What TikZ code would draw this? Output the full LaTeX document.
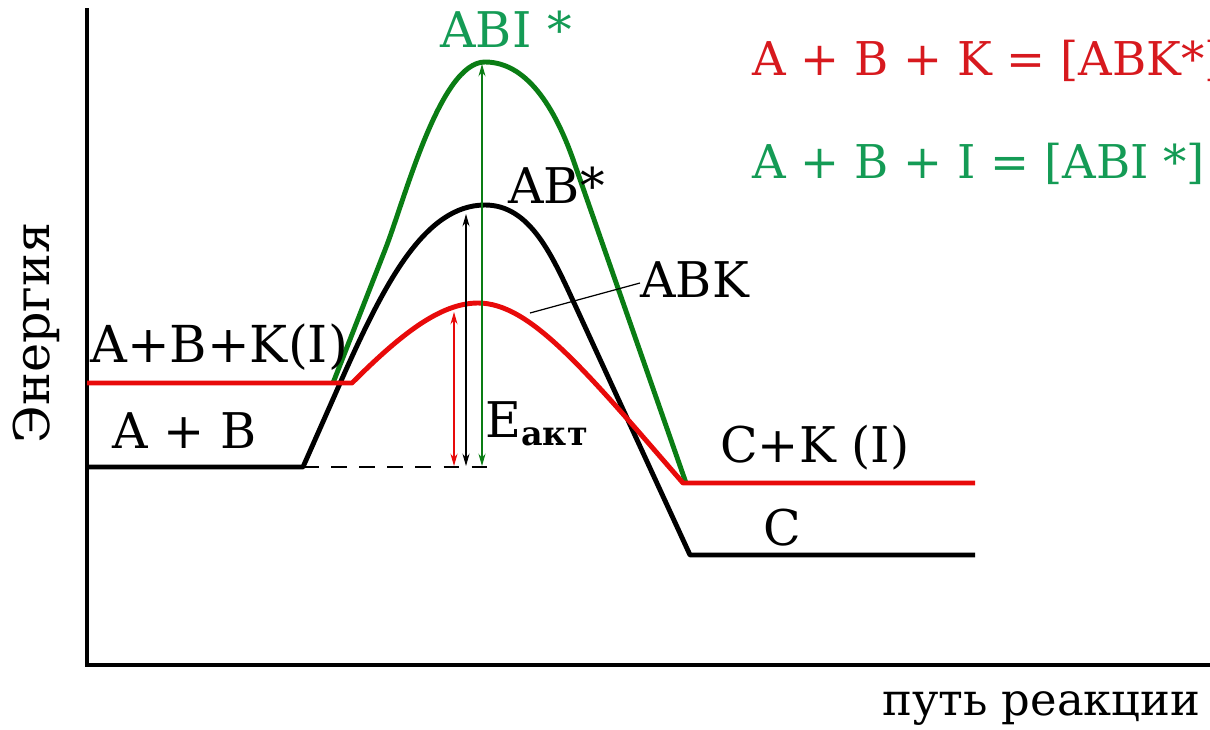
\documentclass[tikz,border=0pt]{standalone}
\usepackage{fontspec}
\setmainfont{DejaVu Serif}
\usetikzlibrary{arrows.meta}
\definecolor{cred}{RGB}{232,10,10}
\definecolor{tred}{RGB}{215,25,30}
\definecolor{cgreen}{RGB}{10,125,20}
\definecolor{tgreen}{RGB}{20,155,85}
\tikzset{
  lbl/.style={anchor=base west, inner sep=0pt, font=\rmfamily\fontsize{28}{34}\selectfont},
  eqlbl/.style={anchor=base west, inner sep=0pt, font=\rmfamily\fontsize{26.5}{32}\selectfont},
  curve/.style={line width=2.8pt, line join=round},
  axisline/.style={line width=2.8pt},
  earrow/.style={line width=0.6pt, {Stealth[length=7pt,width=4pt]}-{Stealth[length=7pt,width=4pt]}},
}
\begin{document}
\begin{tikzpicture}[x=0.02cm,y=-0.02cm]
\useasboundingbox (0,0) rectangle (1210,730);
\clip (0,0) rectangle (1210,730);
% axes
\coordinate (ytop) at (87,8);
\coordinate (orig) at (87,665);
\coordinate (xend) at (1215,665);
\draw[axisline] (ytop) -- (orig) -- (xend);
% dashed baseline
\coordinate (d1) at (303,467);
\coordinate (d2) at (492,467);
\draw[line width=0.9pt, dash pattern=on 9pt off 7pt] (d1) -- (d2);
% black curve
\draw[curve] (87,467) -- (303,467) -- (345,372) .. controls (385,283) and (425,205) .. (485,205)
  .. controls (530,205) and (552,255) .. (575,305) -- (690,555) -- (975,555);
% green curve
\draw[curve, cgreen] (333,383) -- (385,250) .. controls (405,199) and (440,62) .. (485,62)
  .. controls (530,62) and (558,115) .. (575,165) -- (686,483);
% red curve
\draw[curve, cred] (87,383) -- (352,383) .. controls (400,335) and (440,303) .. (478,303)
  .. controls (530,303) and (585,370) .. (683,483) -- (975,483);
% activation energy arrows
\coordinate (rt) at (454,312); \coordinate (rb) at (454,466);
\coordinate (bt) at (466,214); \coordinate (bb) at (466,466);
\coordinate (gt) at (482,64);  \coordinate (gb) at (482,466);
\draw[earrow, cred] (rt) -- (rb);
\draw[earrow, black] (bt) -- (bb);
\draw[earrow, cgreen] (gt) -- (gb);
% labels
\node[lbl, tgreen] (abi) at (440,47) {ABI *};
\node[lbl] (ab) at (508,203) {AB*};
\node[lbl] (abk) at (640,297) {ABK};
\coordinate (abkend) at (530,313);
\draw[line width=0.7pt] (640,283) -- (abkend);
\node[lbl, font=\rmfamily\fontsize{29}{34}\selectfont] (abk1) at (90,362) {A+B+K(I)};
\node[lbl] (ab0) at (112,448) {A + B};
\node[lbl] (eakt) at (485,437) {E\raisebox{-5pt}{\fontsize{19}{19}\selectfont\bfseries акт}};
\node[lbl] (ck) at (720,462) {C+K (I)};
\node[lbl] (c) at (763,545) {C};
\node[lbl, font=\rmfamily\fontsize{25.5}{30}\selectfont] (path) at (882,715) {путь реакции};
\node[eqlbl, tred] (eq1) at (752,75) {A + B + K = [ABK*]};
\node[eqlbl, tgreen] (eq2) at (752,178) {A + B + I = [ABI *]};
\node[inner sep=0pt, rotate=90, anchor=base, font=\rmfamily\fontsize{28}{34}\selectfont] (en) at (50,333) {Энергия};
\end{tikzpicture}
\end{document}
